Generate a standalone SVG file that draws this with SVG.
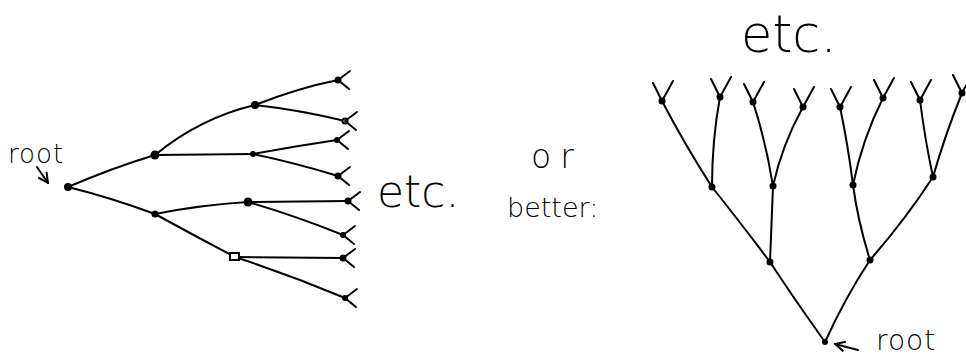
<svg xmlns="http://www.w3.org/2000/svg" width="966" height="358" viewBox="0 0 966 358">
<style>
.e{fill:none;stroke:#000;stroke-width:2;stroke-linecap:round;stroke-linejoin:round}
.n{fill:#000}
.t{font-family:"DejaVu Sans","Liberation Sans",sans-serif;font-weight:200;fill:#000}
</style>
<defs>
<path id="lm" d="M0,0 l12,-9 M0,0 l11,9" class="e"/>
<path id="rm" d="M0,0 l-9,-18 M0,0 l11,-20" class="e"/>
<marker id="ah" viewBox="0 0 12 12" refX="11" refY="6" markerWidth="12" markerHeight="12" markerUnits="userSpaceOnUse" orient="auto">
<path d="M1,1 L11,6 L1,11" fill="none" stroke="#000" stroke-width="2"/>
</marker>
</defs>
<rect width="966" height="358" fill="#fff"/>
<g id="connectors">
<path class="e" d="M68,187 Q112,168 155,155"/>
<path class="e" d="M68,187 Q112,198 155,214"/>
<path class="e" d="M155,155 Q200,118 255,105"/>
<path class="e" d="M155,155 L253,154"/>
<path class="e" d="M255,105 Q298,88 338,80"/>
<path class="e" d="M255,105 Q300,110 345,121"/>
<path class="e" d="M253,154 Q296,146 337,140"/>
<path class="e" d="M253,154 Q296,163 338,176"/>
<path class="e" d="M155,214 Q200,205 248,202"/>
<path class="e" d="M155,214 Q195,236 235,257"/>
<path class="e" d="M248,202 L348,201"/>
<path class="e" d="M248,202 Q296,216 343,235"/>
<path class="e" d="M235,257 L343,258"/>
<path class="e" d="M235,257 Q290,275 345,298"/>
<path class="e" d="M825,342 Q795,300 770,262"/>
<path class="e" d="M825,342 Q845,298 870,260"/>
<path class="e" d="M770,262 Q740,222 712,187"/>
<path class="e" d="M770,262 L773,186"/>
<path class="e" d="M870,260 Q858,222 853,185"/>
<path class="e" d="M870,260 Q905,220 933,177"/>
<path class="e" d="M712,187 Q685,145 662,101"/>
<path class="e" d="M712,187 Q712,140 720,97"/>
<path class="e" d="M773,186 Q766,142 753,102"/>
<path class="e" d="M773,186 Q782,145 803,107"/>
<path class="e" d="M853,185 Q848,145 840,107"/>
<path class="e" d="M853,185 Q862,140 883,98"/>
<path class="e" d="M933,177 Q925,140 920,100"/>
<path class="e" d="M933,177 Q945,135 962,93"/>
<path class="e" d="M37,167 L48,183" marker-end="url(#ah)"/>
<path class="e" d="M858,350 L835,344" marker-end="url(#ah)"/>
</g>
<g id="left-tree">
<circle class="n" cx="68" cy="187" r="4"/>
<circle class="n" cx="155" cy="155" r="4.5"/>
<circle class="n" cx="155" cy="214" r="3.5"/>
<circle class="n" cx="255" cy="105" r="4"/>
<circle class="n" cx="253" cy="154" r="3"/>
<circle class="n" cx="248" cy="202" r="4.5"/>
<rect x="230" y="253" width="9" height="7" fill="#fff" stroke="#000" stroke-width="2"/>
<g id="left-leaves">
<circle class="n" cx="338" cy="80" r="3.5"/><use href="#lm" x="338" y="80"/>
<circle fill="#fff" stroke="#000" stroke-width="2" cx="345" cy="121" r="2.5"/><use href="#lm" x="345" y="121"/>
<circle class="n" cx="337" cy="140" r="3"/><use href="#lm" x="337" y="140"/>
<circle class="n" cx="338" cy="176" r="3.5"/><use href="#lm" x="338" y="176"/>
<circle class="n" cx="348" cy="201" r="3.5"/><use href="#lm" x="348" y="201"/>
<circle class="n" cx="343" cy="235" r="3"/><use href="#lm" x="343" y="235"/>
<circle class="n" cx="343" cy="258" r="3.5"/><use href="#lm" x="343" y="258"/>
<circle class="n" cx="345" cy="298" r="3"/><use href="#lm" x="345" y="298"/>
</g>
</g>
<g id="right-tree">
<circle class="n" cx="825" cy="342" r="3"/>
<circle class="n" cx="770" cy="262" r="3.5"/>
<circle class="n" cx="870" cy="260" r="3.5"/>
<circle class="n" cx="712" cy="187" r="3.5"/>
<circle class="n" cx="773" cy="186" r="3.5"/>
<circle class="n" cx="853" cy="185" r="3.5"/>
<circle class="n" cx="933" cy="177" r="3.5"/>
<g id="right-leaves">
<circle class="n" cx="662" cy="101" r="3.5"/><use href="#rm" x="662" y="101"/>
<circle class="n" cx="720" cy="97" r="3.5"/><use href="#rm" x="720" y="97"/>
<circle class="n" cx="753" cy="102" r="3.5"/><use href="#rm" x="753" y="102"/>
<circle class="n" cx="803" cy="107" r="3.5"/><use href="#rm" x="803" y="107"/>
<circle class="n" cx="840" cy="107" r="3.5"/><use href="#rm" x="840" y="107"/>
<circle class="n" cx="883" cy="98" r="3.5"/><use href="#rm" x="883" y="98"/>
<circle class="n" cx="920" cy="100" r="3.5"/><use href="#rm" x="920" y="100"/>
<circle class="n" cx="962" cy="93" r="3.5"/><use href="#rm" x="962" y="93"/>
</g>
</g>
<g id="labels">
<text class="t" x="8" y="163" font-size="26" letter-spacing="1">root</text>
<text class="t" x="377" y="207" font-size="44">etc.</text>
<text class="t" x="531" y="168" font-size="33" letter-spacing="9">or</text>
<text class="t" x="507" y="217" font-size="27">better:</text>
<text class="t" x="741" y="52" font-size="51">etc.</text>
<text class="t" x="876" y="350" font-size="28" letter-spacing="1">root</text>
</g>
</svg>
